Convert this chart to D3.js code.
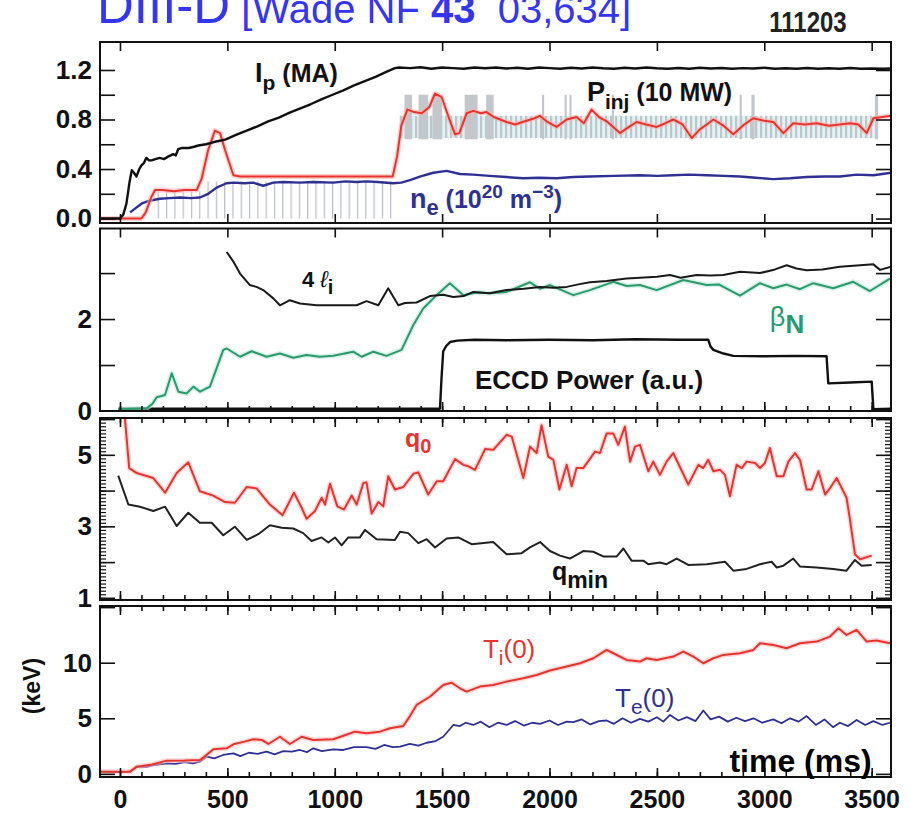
<!DOCTYPE html>
<html>
<head>
<meta charset="utf-8">
<style>
  body { margin: 0; background: #fff; }
  svg { font-family: "Liberation Sans", Arial, sans-serif; }
</style>
</head>
<body>
<svg width="911" height="813"></svg>
<script src="https://d3js.org/d3.v7.min.js"></script>
<script>
// ---- data: [time (ms), value] ----
const ip = [[-93,0],[-40,0],[0,0],[15,0.03],[30,0.12],[45,0.3],[55,0.39],[65,0.37],[77,0.34],[90,0.4],[100,0.43],[112,0.45],[123,0.49],[135,0.47],[147,0.47],[165,0.48],[185,0.49],[205,0.48],[224,0.5],[236,0.51],[248,0.52],[260,0.51],[271,0.56],[290,0.57],[320,0.57],[345,0.58],[365,0.59],[400,0.6],[442,0.62],[470,0.63],[493,0.64],[540,0.675],[590,0.71],[640,0.745],[690,0.785],[740,0.815],[790,0.855],[840,0.89],[890,0.925],[940,0.965],[990,1.0],[1040,1.035],[1090,1.075],[1140,1.11],[1190,1.145],[1240,1.185],[1280,1.215],[1300,1.22],[1350,1.215],[1400,1.222],[1450,1.21],[1500,1.22],[1550,1.215],[1600,1.21],[1650,1.22],[1700,1.214],[1750,1.22],[1800,1.212],[1850,1.218],[1900,1.21],[1950,1.22],[2000,1.215],[2050,1.21],[2100,1.218],[2150,1.212],[2200,1.22],[2250,1.214],[2300,1.21],[2350,1.218],[2400,1.212],[2450,1.22],[2500,1.214],[2550,1.21],[2600,1.216],[2650,1.21],[2700,1.218],[2750,1.212],[2800,1.216],[2850,1.21],[2900,1.215],[2950,1.212],[3000,1.218],[3050,1.21],[3100,1.214],[3150,1.21],[3200,1.216],[3250,1.21],[3300,1.214],[3350,1.21],[3400,1.216],[3450,1.21],[3500,1.212],[3550,1.21],[3590,1.212]];
const pinj = [[-93,0],[0,0],[100,0],[120,0.05],[145,0.17],[163,0.23],[200,0.23],[250,0.22],[300,0.23],[357,0.23],[380,0.32],[410,0.55],[442,0.71],[466,0.69],[490,0.55],[528,0.35],[560,0.34],[600,0.34],[700,0.34],[800,0.34],[900,0.34],[1000,0.34],[1100,0.34],[1200,0.34],[1270,0.34],[1290,0.5],[1310,0.75],[1338,0.88],[1370,0.86],[1405,0.85],[1440,0.9],[1467,1.01],[1498,0.98],[1530,0.82],[1560,0.68],[1580,0.69],[1614,0.85],[1645,0.87],[1680,0.85],[1707,0.86],[1740,0.82],[1770,0.8],[1800,0.78],[1840,0.76],[1893,0.79],[1930,0.81],[1955,0.83],[1990,0.78],[2033,0.74],[2080,0.8],[2126,0.82],[2160,0.77],[2196,0.88],[2230,0.82],[2270,0.78],[2328,0.69],[2370,0.74],[2406,0.78],[2450,0.76],[2499,0.74],[2540,0.77],[2576,0.8],[2620,0.76],[2662,0.65],[2700,0.72],[2732,0.76],[2763,0.8],[2810,0.75],[2856,0.68],[2900,0.75],[2949,0.81],[3000,0.79],[3042,0.78],[3089,0.69],[3135,0.77],[3190,0.76],[3244,0.77],[3300,0.75],[3352,0.76],[3400,0.77],[3438,0.76],[3477,0.69],[3508,0.81],[3550,0.82],[3590,0.83]];
const ne = [[47,0.05],[70,0.08],[100,0.12],[130,0.14],[155,0.15],[186,0.16],[230,0.165],[280,0.17],[330,0.165],[372,0.17],[411,0.2],[450,0.25],[496,0.285],[530,0.29],[580,0.285],[620,0.29],[667,0.265],[714,0.29],[760,0.295],[838,0.29],[900,0.295],[993,0.29],[1050,0.3],[1100,0.295],[1148,0.3],[1200,0.295],[1272,0.285],[1310,0.29],[1350,0.31],[1400,0.34],[1459,0.37],[1521,0.385],[1583,0.36],[1645,0.355],[1720,0.345],[1800,0.335],[1878,0.325],[1950,0.33],[2033,0.325],[2110,0.335],[2188,0.34],[2300,0.345],[2421,0.35],[2500,0.345],[2576,0.35],[2650,0.355],[2732,0.35],[2810,0.345],[2887,0.34],[2960,0.33],[3042,0.318],[3120,0.325],[3197,0.335],[3280,0.34],[3352,0.34],[3430,0.355],[3508,0.35],[3550,0.36],[3590,0.37]];
const li4 = [[497,3.46],[528,3.25],[559,2.99],[605,2.74],[636,2.7],[667,2.63],[714,2.45],[745,2.3],[791,2.41],[838,2.34],[915,2.3],[1000,2.3],[1102,2.3],[1148,2.39],[1203,2.3],[1249,2.67],[1296,2.3],[1327,2.35],[1381,2.36],[1443,2.5],[1505,2.53],[1552,2.48],[1600,2.5],[1645,2.59],[1720,2.56],[1800,2.63],[1880,2.66],[1956,2.7],[2020,2.68],[2080,2.7],[2140,2.76],[2188,2.8],[2266,2.83],[2359,2.88],[2421,2.9],[2500,2.92],[2561,2.96],[2610,2.9],[2685,2.96],[2750,2.95],[2809,2.96],[2887,3.03],[2980,3.0],[3050,3.08],[3104,3.17],[3150,3.1],[3197,3.06],[3270,3.08],[3352,3.14],[3446,3.17],[3508,3.19],[3539,3.07],[3590,3.14]];
const betaN = [[-8,0.04],[60,0.05],[124,0.06],[150,0.15],[171,0.3],[210,0.35],[241,0.82],[272,0.42],[310,0.38],[342,0.53],[373,0.42],[419,0.53],[481,1.33],[497,1.36],[559,1.18],[613,1.3],[683,1.18],[745,1.25],[807,1.16],[869,1.22],[931,1.18],[993,1.2],[1086,1.29],[1125,1.18],[1180,1.29],[1241,1.2],[1311,1.33],[1366,1.87],[1412,2.23],[1474,2.52],[1536,2.78],[1599,2.52],[1660,2.58],[1723,2.56],[1800,2.59],[1909,2.8],[1956,2.66],[2002,2.74],[2111,2.52],[2188,2.63],[2297,2.81],[2360,2.72],[2421,2.74],[2499,2.63],[2623,2.85],[2732,2.74],[2790,2.75],[2887,2.51],[2980,2.78],[3042,2.67],[3104,2.75],[3166,2.65],[3228,2.78],[3321,2.67],[3414,2.81],[3492,2.61],[3585,2.88]];
const eccd = [[-8,0.05],[1490,0.05],[1497,0.7],[1505,1.3],[1520,1.42],[1537,1.5],[1570,1.53],[1650,1.55],[1800,1.54],[2000,1.55],[2200,1.54],[2400,1.56],[2600,1.55],[2739,1.55],[2750,1.4],[2763,1.33],[2810,1.25],[2856,1.2],[3000,1.19],[3150,1.2],[3290,1.19],[3298,0.6],[3400,0.62],[3500,0.64],[3508,0.04],[3590,0.05]];
const q0 = [[19,6.3],[43,4.63],[78,4.49],[155,4.35],[210,3.94],[264,4.49],[318,4.79],[372,3.98],[434,3.86],[489,3.68],[535,3.66],[590,4.1],[636,4.06],[698,3.61],[757,3.31],[810,3.94],[846,3.52],[869,3.21],[908,3.43],[939,3.8],[955,3.61],[978,4.19],[1012,3.56],[1043,3.47],[1079,3.86],[1102,3.61],[1133,4.21],[1148,4.23],[1172,3.36],[1203,3.68],[1226,3.56],[1249,4.4],[1280,4.03],[1319,4.1],[1366,4.47],[1389,4.51],[1435,3.89],[1475,4.26],[1505,4.26],[1560,4.88],[1599,4.72],[1622,4.68],[1653,4.58],[1700,5.16],[1738,5.14],[1800,5.56],[1824,5.51],[1878,4.35],[1909,5.23],[1940,5.05],[1963,5.83],[1994,4.95],[2018,4.86],[2046,4.03],[2080,4.72],[2103,4.12],[2126,4.63],[2157,4.63],[2212,5.09],[2235,5.05],[2266,5.6],[2297,5.6],[2320,5.28],[2351,5.79],[2375,4.81],[2398,5.23],[2421,5.28],[2460,4.54],[2483,4.81],[2514,4.44],[2545,4.81],[2576,5.05],[2646,4.17],[2693,4.72],[2716,4.63],[2739,4.86],[2763,4.54],[2794,4.58],[2817,4.44],[2840,3.84],[2871,4.72],[2895,4.63],[2918,4.81],[2957,4.77],[2980,4.63],[3003,4.77],[3026,5.19],[3058,4.4],[3089,4.4],[3112,4.81],[3143,5.05],[3166,4.86],[3197,4.03],[3220,4.03],[3252,4.54],[3283,3.89],[3306,4.07],[3337,4.35],[3383,3.8],[3399,3.19],[3422,2.22],[3446,2.08],[3500,2.18]];
const qmin = [[-8,4.42],[39,3.61],[93,3.55],[155,3.43],[210,3.55],[264,3.01],[318,3.38],[372,3.1],[427,3.1],[481,2.75],[535,2.99],[590,2.62],[644,2.78],[698,3.03],[753,2.96],[807,2.94],[853,2.81],[892,2.59],[939,2.69],[970,2.55],[1001,2.69],[1032,2.47],[1063,2.69],[1117,2.69],[1141,2.9],[1195,2.64],[1280,2.62],[1304,2.85],[1342,2.81],[1389,2.53],[1428,2.64],[1467,2.41],[1521,2.66],[1575,2.69],[1637,2.5],[1738,2.56],[1800,2.22],[1870,2.25],[1909,2.41],[1956,2.56],[2002,2.31],[2049,2.18],[2095,2.1],[2157,2.31],[2204,2.29],[2250,2.16],[2313,2.16],[2344,2.38],[2382,2.04],[2437,2.04],[2460,1.94],[2514,1.99],[2545,1.94],[2592,2.1],[2646,1.92],[2732,1.94],[2817,2.01],[2856,1.76],[2918,1.81],[2980,1.94],[3034,2.01],[3058,1.85],[3089,1.9],[3135,2.1],[3166,1.88],[3244,1.85],[3321,1.81],[3383,1.76],[3422,2.06],[3453,1.9],[3500,1.92]];
const ti0 = [[-93,0.2],[47,0.2],[78,0.65],[150,0.85],[217,1.19],[300,1.2],[372,1.25],[396,1.6],[435,2.21],[497,2.3],[528,2.66],[580,2.9],[621,3.11],[660,3.05],[691,2.69],[745,3.34],[791,2.69],[846,3.34],[900,3.05],[993,3.11],[1050,3.5],[1094,3.8],[1148,3.65],[1210,3.8],[1257,4.1],[1319,4.31],[1350,5.2],[1381,6.2],[1443,6.94],[1505,8.0],[1544,8.2],[1583,7.7],[1614,7.4],[1676,7.85],[1738,8.0],[1800,8.3],[1878,8.6],[1940,8.9],[2002,9.3],[2080,9.65],[2142,9.95],[2204,10.4],[2266,11.15],[2297,10.85],[2359,10.25],[2421,10.1],[2452,10.4],[2499,10.25],[2576,10.55],[2623,11.0],[2670,10.55],[2716,9.95],[2763,10.4],[2809,10.7],[2887,10.85],[2949,11.15],[2980,11.75],[3042,11.6],[3104,11.3],[3166,11.75],[3244,11.9],[3306,12.35],[3345,13.1],[3383,12.5],[3430,12.95],[3477,11.9],[3523,12.0],[3585,11.75]];
const te0 = [[-93,0.2],[0,0.15],[47,0.2],[78,0.65],[120,0.6],[160,0.8],[217,0.95],[260,0.9],[300,1.05],[340,0.95],[372,1.1],[404,1.55],[440,1.4],[480,1.7],[528,1.85],[560,1.6],[600,1.9],[640,1.8],[683,2.0],[720,1.75],[760,2.05],[800,2.0],[838,2.15],[870,1.95],[900,2.3],[940,2.05],[993,2.2],[1040,2.15],[1090,2.4],[1148,2.4],[1190,2.25],[1230,2.6],[1270,2.4],[1304,2.45],[1350,2.7],[1390,2.55],[1428,2.8],[1470,2.95],[1505,3.34],[1530,3.9],[1552,4.4],[1583,4.3],[1610,4.6],[1645,4.4],[1680,4.7],[1720,4.2],[1760,4.6],[1800,4.4],[1840,4.75],[1880,4.35],[1920,4.6],[1956,4.5],[2000,4.8],[2040,4.4],[2080,4.7],[2111,4.65],[2150,4.9],[2190,4.45],[2230,4.75],[2266,4.8],[2300,4.5],[2340,5.0],[2380,4.6],[2421,4.95],[2460,4.7],[2500,5.1],[2530,4.7],[2561,5.3],[2600,4.8],[2640,5.1],[2680,4.75],[2716,5.7],[2750,4.9],[2790,5.15],[2830,4.7],[2870,5.05],[2910,4.75],[2950,5.0],[2990,4.6],[3042,4.9],[3080,4.55],[3120,5.0],[3160,4.7],[3197,5.2],[3240,4.4],[3280,4.9],[3320,4.2],[3352,4.6],[3390,4.3],[3430,4.85],[3470,4.4],[3508,4.75],[3550,4.4],[3585,4.6]];

// beam power raw trace (grey): hatched bands [t0, t1, vLow, vHigh] and tall pulses [t0, t1]
const beamBands = [[150, 380, 0, 0.22], [380, 1290, 0, 0.3], [1300, 3520, 0.65, 0.83]];
const beamPulses = [[1325,1360],[1390,1435],[1455,1500],[1605,1665],[1705,1740],[1965,1975],[2070,2080],[2093,2100],[2290,2300],[2885,2895],[2940,2955],[3515,3530]];

const xMajor = [0, 500, 1000, 1500, 2000, 2500, 3000, 3500];
const xTickLabels = ["0", "500", "1000", "1500", "2000", "2500", "3000", "3500"];

const red = "#e8342f", navy = "#2e3192", green = "#2a9a6c";

const svg = d3.select("svg");
const x = d3.scaleLinear().domain([-93, 3590]).range([100, 891]);
const xMinor = d3.range(0, 3600, 100);

const panels = [
  {top: 42, bottom: 223, domain: [-0.036, 1.426], ticks: [0, 0.2, 0.4, 0.6, 0.8, 1.0, 1.2], minor: [],
   labels: [0, 0.4, 0.8, 1.2], fmt: d3.format(".1f"), minorTop: false, minorBottom: false},
  {top: 228.5, bottom: 411, domain: [0, 3.97], ticks: [1, 2, 3], minor: [],
   labels: [0, 2], fmt: d3.format("d"), minorTop: false, minorBottom: true},
  {top: 418, bottom: 600, domain: [0.94, 6.03], ticks: [1, 2, 3, 4, 5, 6], minor: d3.range(1, 6.05, 0.1),
   labels: [1, 3, 5], fmt: d3.format("d"), minorTop: true, minorBottom: true},
  {top: 606, bottom: 777, domain: [-0.28, 15.1], ticks: [0, 5, 10, 15], minor: [],
   labels: [0, 5, 10], fmt: d3.format("d"), minorTop: true, minorBottom: true}
];

const defs = svg.append("defs");
const pat1 = defs.append("pattern").attr("id", "hatchA").attr("patternUnits", "userSpaceOnUse")
  .attr("width", 8.3).attr("height", 10);
pat1.append("rect").attr("x", 0).attr("y", 0).attr("width", 1.2).attr("height", 10).attr("fill", "#b8bcc2");
const pat2 = defs.append("pattern").attr("id", "hatchB").attr("patternUnits", "userSpaceOnUse")
  .attr("width", 5).attr("height", 10);
pat2.append("rect").attr("width", 5).attr("height", 10).attr("fill", "#e0f3f5");
pat2.append("rect").attr("x", 0).attr("y", 0).attr("width", 2.2).attr("height", 10).attr("fill", "#c0c5ca");

function cleanAxis(g) {
  g.select(".domain").remove();
  g.selectAll(".tick line").attr("stroke", "#111").attr("stroke-width", 1.6);
}

panels.forEach((p, i) => {
  const y = d3.scaleLinear().domain(p.domain).range([p.bottom, p.top]);
  p.y = y;
  defs.append("clipPath").attr("id", "clip" + i)
    .append("rect").attr("x", x.range()[0]).attr("y", p.top)
    .attr("width", x.range()[1] - x.range()[0]).attr("height", p.bottom - p.top);
  const g = svg.append("g");
  p.g = g;
  p.plot = g.append("g").attr("clip-path", `url(#clip${i})`);

  // x ticks on top and bottom edges
  [[p.top, d3.axisTop, p.minorTop], [p.bottom, d3.axisBottom, p.minorBottom]].forEach(([yy, fn, minor]) => {
    if (minor) {
      g.append("g").attr("transform", `translate(0,${yy})`)
        .call(fn(x).tickValues(xMinor).tickSize(-5).tickFormat("")).call(cleanAxis);
    }
    g.append("g").attr("transform", `translate(0,${yy})`)
      .call(fn(x).tickValues(xMajor).tickSize(-9).tickFormat("")).call(cleanAxis);
  });
  // y ticks left and right
  [[x.range()[0], d3.axisLeft], [x.range()[1], d3.axisRight]].forEach(([xx, fn]) => {
    if (p.minor.length) {
      g.append("g").attr("transform", `translate(${xx},0)`)
        .call(fn(y).tickValues(p.minor).tickSize(-6).tickFormat("")).call(cleanAxis)
        .selectAll(".tick line").attr("stroke-width", 1.2);
    }
    g.append("g").attr("transform", `translate(${xx},0)`)
      .call(fn(y).tickValues(p.ticks).tickSize(-15).tickFormat("")).call(cleanAxis);
  });
  // y tick labels
  g.append("g").attr("transform", `translate(${x.range()[0]},0)`)
    .call(d3.axisLeft(y).tickValues(p.labels).tickSize(0).tickPadding(8).tickFormat(p.fmt))
    .call(a => a.select(".domain").remove())
    .selectAll("text").attr("font-size", 26).attr("font-weight", "bold")
    .attr("font-family", "Liberation Sans, Arial, sans-serif").attr("fill", "#111");
});

// time labels under the last panel
const p4 = panels[3];
p4.g.append("g").attr("transform", `translate(0,${p4.bottom})`)
  .call(d3.axisBottom(x).tickValues(xMajor).tickSize(0).tickPadding(13).tickFormat((d, i) => xTickLabels[i]))
  .call(a => a.select(".domain").remove())
  .selectAll("text").attr("font-size", 25).attr("font-weight", "bold")
  .attr("font-family", "Liberation Sans, Arial, sans-serif").attr("fill", "#111");

// panel 1: beam power traces
const P1 = panels[0];
P1.plot.selectAll("rect.band").data(beamBands).join("rect").attr("class", "band")
  .attr("x", d => x(d[0])).attr("width", d => x(d[1]) - x(d[0]))
  .attr("y", d => P1.y(d[3])).attr("height", d => P1.y(d[2]) - P1.y(d[3]))
  .attr("fill", (d, i) => i < 2 ? "url(#hatchA)" : "url(#hatchB)");
P1.plot.selectAll("rect.pulse").data(beamPulses).join("rect").attr("class", "pulse")
  .attr("x", d => x(d[0])).attr("width", d => Math.max(2, x(d[1]) - x(d[0])))
  .attr("y", P1.y(1.0)).attr("height", P1.y(0.64) - P1.y(1.0))
  .attr("fill", "#c3c7cb");

function drawLine(p, data, color, width, glow) {
  const line = d3.line().x(d => x(d[0])).y(d => p.y(d[1]));
  if (glow) {
    p.plot.append("path").datum(data).attr("d", line).attr("fill", "none")
      .attr("stroke", glow).attr("stroke-width", width + 3).attr("stroke-linejoin", "round").attr("opacity", 0.6);
  }
  p.plot.append("path").datum(data).attr("d", line).attr("fill", "none")
    .attr("stroke", color).attr("stroke-width", width).attr("stroke-linejoin", "round");
}

drawLine(panels[0], ne, navy, 2.4, null);
drawLine(panels[0], pinj, red, 2, "#f6b4b2");
drawLine(panels[0], ip, "#111", 2.4, null);

drawLine(panels[1], eccd, "#111", 2.4, null);
drawLine(panels[1], betaN, green, 2, "#bfe8dc");
drawLine(panels[1], li4, "#1a1a1a", 2, null);

drawLine(panels[2], qmin, "#222", 2, null);
drawLine(panels[2], q0, red, 2, "#f6c0bf");

drawLine(panels[3], te0, navy, 1.8, null);
drawLine(panels[3], ti0, red, 2, "#f6c0bf");

// panel frames
panels.forEach(p => {
  svg.append("rect").attr("x", x.range()[0]).attr("y", p.top)
    .attr("width", x.range()[1] - x.range()[0]).attr("height", p.bottom - p.top)
    .attr("fill", "none").attr("stroke", "#111").attr("stroke-width", 2);
});

// rich text labels with sub/superscripts
function rich(px, py, parts, color, opts) {
  opts = opts || {};
  const t = svg.append("text").attr("x", px).attr("y", py).attr("fill", color)
    .attr("font-weight", opts.weight || "bold").attr("text-anchor", opts.anchor || "start")
    .style("white-space", "pre");
  let cur = 0;
  parts.forEach(pt => {
    const shift = pt.shift || 0;
    const s = t.append("tspan").attr("dy", shift - cur).attr("font-size", pt.size).text(pt.text);
    if (pt.weight) s.attr("font-weight", pt.weight);
    if (pt.style) s.attr("font-style", pt.style);
    cur = shift;
  });
  return t;
}

const y1 = panels[0].y, y2 = panels[1].y, y3 = panels[2].y, y4 = panels[3].y;
rich(x(629), y1(1.1), [{text: "I", size: 27}, {text: "p", size: 21, shift: 8}, {text: " (MA)", size: 25}], "#111");
rich(x(2174), y1(0.95), [{text: "P", size: 27}, {text: "inj", size: 21, shift: 8}, {text: " (10 MW)", size: 25}], "#111");
rich(x(1350), y1(0.085), [{text: "n", size: 27}, {text: "e", size: 22, shift: 7}, {text: " (10", size: 25},
  {text: "20", size: 19, shift: -10}, {text: " m", size: 25}, {text: "\u22123", size: 19, shift: -10}, {text: ")", size: 25}], navy);
rich(x(847), y2(2.7), [{text: "4 ", size: 22}, {text: "\u2113", size: 23, style: "italic", weight: "normal"}, {text: "i", size: 20, shift: 7}], "#111");
rich(x(3026), y2(1.85), [{text: "\u03b2", size: 27, weight: "normal"}, {text: "N", size: 26, shift: 7}], green);
rich(x(1653), y2(0.48), [{text: "ECCD Power (a.u.)", size: 26}], "#111");
rich(x(1327), y3(5.22), [{text: "q", size: 25}, {text: "0", size: 20, shift: 6}], red);
rich(x(2011), y3(1.5), [{text: "q", size: 25}, {text: "min", size: 23, shift: 8}], "#111");
rich(x(1690), y4(10.4), [{text: "T", size: 26}, {text: "i", size: 21, shift: 7}, {text: "(0)", size: 26}], red, {weight: "normal"});
rich(x(2305), y4(6.0), [{text: "T", size: 26}, {text: "e", size: 21, shift: 7}, {text: "(0)", size: 26}], navy, {weight: "normal"});
rich(x(3500), y4(0.17), [{text: "time (ms)", size: 32}], "#000", {anchor: "end"});

svg.append("text").attr("transform", "translate(40,686) rotate(-90)").attr("text-anchor", "middle")
  .attr("font-size", 23).attr("font-weight", "bold").attr("fill", "#111").text("(keV)");

svg.append("text").attr("transform", "translate(808,32) scale(1,1.2)").attr("text-anchor", "middle")
  .attr("font-size", 24).attr("font-weight", "bold").attr("fill", "#222").text("111203");

const title = svg.append("text").attr("x", 97).attr("y", 23).attr("fill", "#3535f5").style("white-space", "pre");
title.append("tspan").attr("font-size", 51).text("DIII-D");
title.append("tspan").attr("font-size", 40).text(" [Wade NF ");
title.append("tspan").attr("font-size", 40).attr("font-weight", "bold").text("43");
title.append("tspan").attr("font-size", 40).text("  03,634]");
</script>
</body>
</html>
